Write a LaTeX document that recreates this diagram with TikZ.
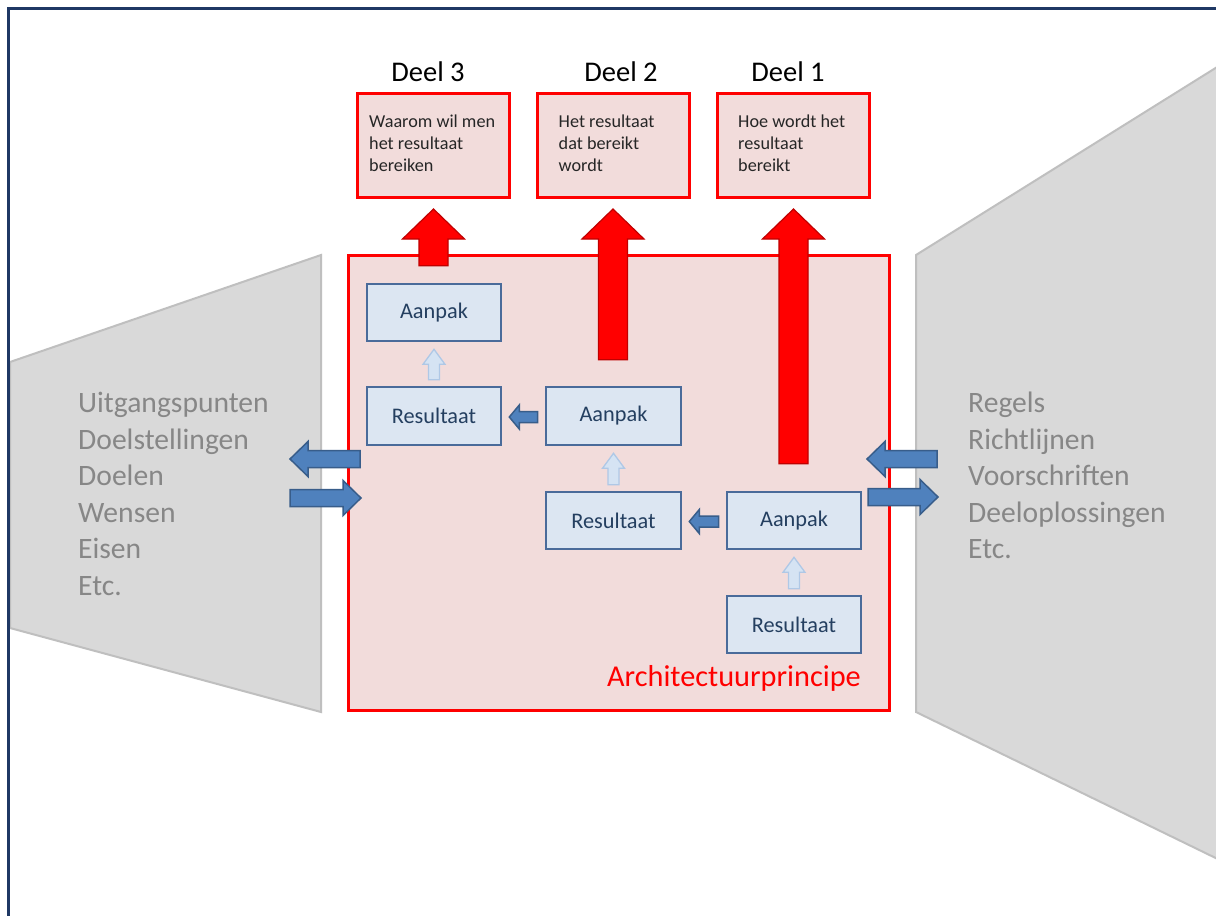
\documentclass[tikz,border=0pt]{standalone}
\usepackage{fontspec}
\setmainfont{Carlito}
\usetikzlibrary{calc}

\definecolor{framenavy}{HTML}{1F3864}
\definecolor{trapfill}{HTML}{D9D9D9}
\definecolor{trapline}{HTML}{BFBFBF}
\definecolor{traptext}{HTML}{878787}
\definecolor{pinkfill}{HTML}{F2DCDB}
\definecolor{boxfill}{HTML}{DCE6F2}
\definecolor{boxline}{HTML}{4A6B9A}
\definecolor{boxtext}{HTML}{243F60}
\definecolor{bluearrow}{HTML}{4F81BD}
\definecolor{bluearrowline}{HTML}{385D8A}
\definecolor{paleblue}{HTML}{D5E3F3}
\definecolor{palebluel}{HTML}{AFC8E6}
\definecolor{darkred}{HTML}{C00000}

% block arrow: #1 style, #2 tail, #3 tip, #4 shaft half width,
% #5 head half width, #6 head length
\newcommand\blockarrow[6]{%
  \path (#2) coordinate (ba-tail) (#3) coordinate (ba-tip);
  \path ($(ba-tip)!#6!(ba-tail)$) coordinate (ba-base);
  \draw[#1] ($(ba-tail)!#4!90:(ba-tip)$)
    -- ($(ba-base)!#4!-90:(ba-tail)$)
    -- ($(ba-base)!#5!-90:(ba-tail)$)
    -- (ba-tip)
    -- ($(ba-base)!#5!90:(ba-tail)$)
    -- ($(ba-base)!#4!90:(ba-tail)$)
    -- ($(ba-tail)!#4!-90:(ba-tip)$) -- cycle;
}

\tikzset{
  redbox/.style={draw=red, fill=pinkfill, line width=3pt, inner sep=0pt},
  stepbox/.style={draw=boxline, fill=boxfill, line width=2.6pt,
    minimum width=134pt, minimum height=57pt, inner sep=0pt,
    text=boxtext, font=\fontsize{22.3}{26}\selectfont},
  title/.style={font=\fontsize{28.5}{32}\selectfont, text=black, inner sep=0pt},
  boxnote/.style={anchor=north west, align=left, inner sep=0pt, text=black!85,
    font=\fontsize{18.2}{22}\selectfont},
  sidelist/.style={anchor=north west, align=left, inner sep=0pt, text=traptext,
    font=\fontsize{29.6}{36.5}\selectfont},
  trap/.style={fill=trapfill, draw=trapline, line width=2pt},
  redarrow/.style={fill=red, draw=darkred, line width=1.2pt, line join=miter},
  bluearr/.style={fill=bluearrow, draw=bluearrowline, line width=1.5pt},
  palearr/.style={fill=paleblue, draw=palebluel, line width=1.3pt}
}

\begin{document}
\begin{tikzpicture}[x=1pt, y=-1pt]
\useasboundingbox (0,0) rectangle (1216,916);
\begin{scope}
\clip (0,0) rectangle (1216,916);
\fill[white] (0,0) rectangle (1216,916);

% side panels
\draw[trap] (10,362) -- (321,255) -- (321,712) -- (10,628) -- cycle;
\draw[trap] (916,255) -- (1230,59) -- (1230,865) -- (916,712) -- cycle;

% frame
\draw[framenavy, line width=3pt] (8,930) -- (8,8) -- (1230,8);

% main principle box
\node[redbox, minimum width=541pt, minimum height=455pt] (main) at (618.5,482.5) {};
\node[anchor=base east, inner sep=0pt, text=red,
  font=\fontsize{30.3}{34}\selectfont] (archlabel) at (861,686) {Architectuurprincipe};

% the three parts
\node[redbox, minimum width=152pt, minimum height=104pt] (part3) at (433.5,145.5) {};
\node[redbox, minimum width=152pt, minimum height=104pt] (part2) at (613,145.5) {};
\node[redbox, minimum width=152pt, minimum height=104pt] (part1) at (793.5,145.5) {};

\node[title] (t3) at (428,72) {Deel 3};
\node[title] (t2) at (621,72) {Deel 2};
\node[title] (t1) at (788,72) {Deel 1};

\node[boxnote] (n3) at ($(part3.north west)+(13,23)$) {Waarom wil men\\het resultaat\\bereiken};
\node[boxnote] (n2) at ($(part2.north west)+(23,23)$) {Het resultaat\\dat bereikt\\wordt};
\node[boxnote] (n1) at ($(part1.north west)+(22,23)$) {Hoe wordt het\\resultaat\\bereikt};

% steps
\node[stepbox] (A3) at (434,312.5) {Aanpak};
\node[stepbox, minimum height=58pt] (R3) at (434,416) {Resultaat};
\node[stepbox, minimum width=135pt, minimum height=58pt] (A2) at (613.5,416) {Aanpak};
\node[stepbox, minimum width=135pt] (R2) at (613.5,520.5) {Resultaat};
\node[stepbox] (A1) at (794,520.5) {Aanpak};
\node[stepbox] (R1) at (794,624.5) {Resultaat};

% red arrows up to the parts
\blockarrow{redarrow}{$(part3.south |- A3.north)+(0,-17)$}{$(part3.south)+(0,10)$}{14.5pt}{31pt}{30pt}
\blockarrow{redarrow}{$(part2.south |- A2.north)+(0,-26)$}{$(part2.south)+(0,10)$}{14.5pt}{31pt}{30pt}
\blockarrow{redarrow}{$(part1.south |- A1.north)+(0,-27)$}{$(part1.south)+(0,10)$}{14.5pt}{31pt}{30pt}

% pale arrows: result feeds approach
\blockarrow{palearr}{$(R3.north)+(0,-6)$}{$(A3.south)+(0,7)$}{5.5pt}{11pt}{15pt}
\blockarrow{palearr}{$(R2.north)+(0,-6)$}{$(A2.south)+(0,7)$}{5.5pt}{11pt}{15pt}
\blockarrow{palearr}{$(R1.north)+(0,-6)$}{$(A1.south)+(0,7)$}{5.5pt}{11pt}{15pt}

% blue arrows: approach yields result
\blockarrow{bluearr}{$(A2.west)+(-7,1)$}{$(R3.east)+(7,1)$}{5.5pt}{12pt}{10pt}
\blockarrow{bluearr}{$(A1.west)+(-7,1)$}{$(R2.east)+(7,1)$}{5.5pt}{12pt}{10pt}

% exchange with the side panels
\coordinate (lout1) at (360,459);
\coordinate (lout2) at (290,459);
\coordinate (lin1) at (290,498);
\coordinate (lin2) at (361,498);
\coordinate (rin1) at (937,459);
\coordinate (rin2) at (867,459);
\coordinate (rout1) at (868,497);
\coordinate (rout2) at (938,497);
\blockarrow{bluearr}{lout1}{lout2}{8.5pt}{17.5pt}{18pt}
\blockarrow{bluearr}{lin1}{lin2}{8.5pt}{17.5pt}{18pt}
\blockarrow{bluearr}{rin1}{rin2}{8.5pt}{17.5pt}{18pt}
\blockarrow{bluearr}{rout1}{rout2}{8.5pt}{17.5pt}{18pt}

% side lists
\node[sidelist] (leftlist) at (78,392)
  {Uitgangspunten\\Doelstellingen\\Doelen\\Wensen\\Eisen\\Etc.};
\node[sidelist] (rightlist) at (968,392)
  {Regels\\Richtlijnen\\Voorschriften\\Deeloplossingen\\Etc.};
\end{scope}
\end{tikzpicture}
\end{document}
